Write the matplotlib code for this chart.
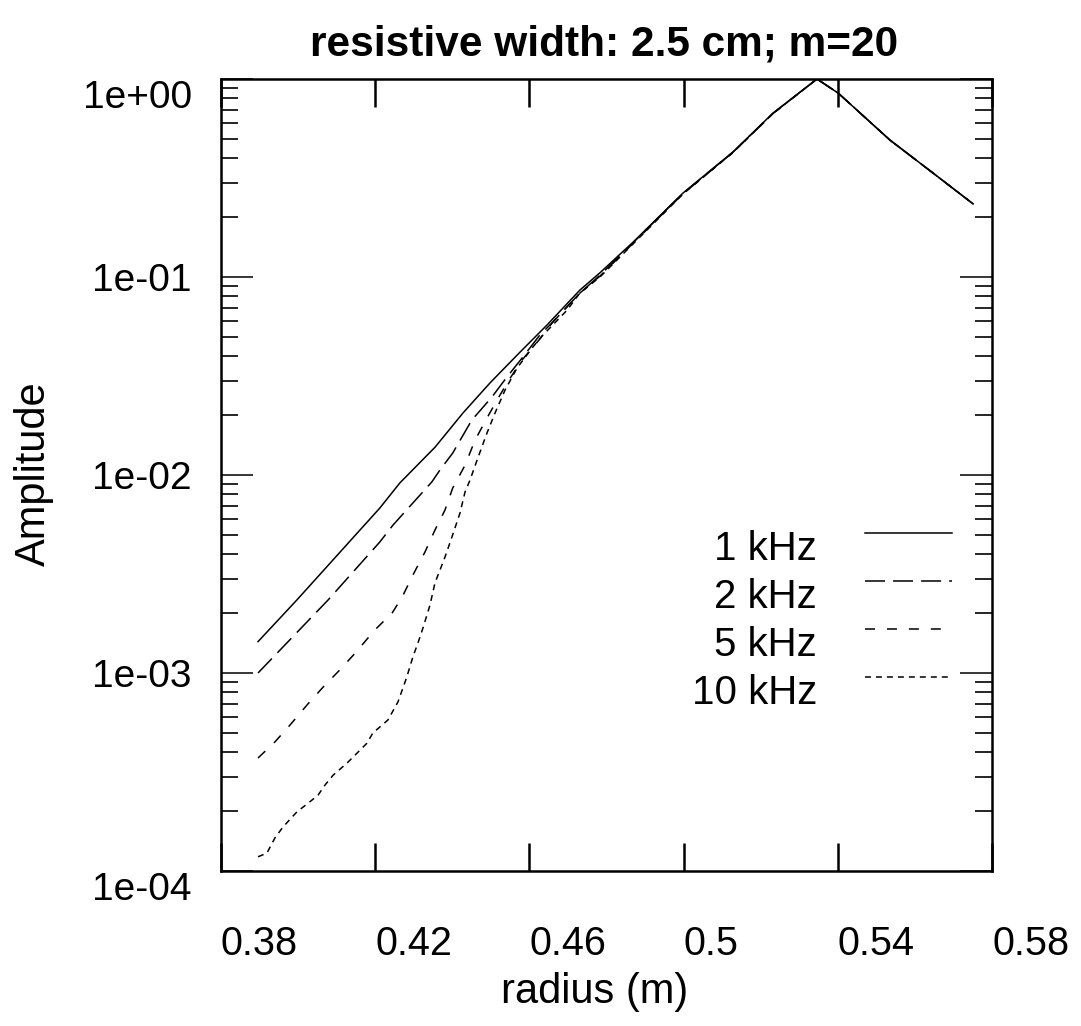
import matplotlib
matplotlib.use('Agg')
import matplotlib.pyplot as plt
from matplotlib.lines import Line2D
from matplotlib.transforms import ScaledTranslation

plt.rcParams['font.family'] = ['Liberation Sans', 'DejaVu Sans']
plt.rcParams['lines.scale_dashes'] = False

# data (radius in m, normalised amplitude)
r_1k = [0.3896, 0.3997, 0.4212, 0.4264, 0.4355, 0.4428, 0.4498, 0.4576, 0.4646,
        0.4731, 0.4783, 0.4869, 0.4998, 0.5128, 0.5232, 0.5346, 0.5401, 0.5535,
        0.5647, 0.5751]
amp_1k = [1.44e-3, 2.34e-3, 6.81e-3, 9.12e-3, 1.38e-2, 2.06e-2, 2.92e-2, 4.18e-2,
          5.73e-2, 8.59e-2, 0.105, 0.150, 0.265, 0.428, 0.673, 1.0, 0.849, 0.492,
          0.335, 0.234]

r_2k = [0.3896, 0.4078, 0.4212, 0.4246, 0.4298, 0.4347, 0.4368, 0.4401, 0.4428,
        0.4451, 0.4467, 0.4503, 0.4542, 0.4583, 0.4627, 0.4661, 0.4731, 0.4783,
        0.4869, 0.4998, 0.5128, 0.5232, 0.5346, 0.5401, 0.5535, 0.5647, 0.5751]
amp_2k = [1.0e-3, 2.34e-3, 4.59e-3, 5.58e-3, 7.23e-3, 9.23e-3, 1.06e-2, 1.29e-2,
          1.59e-2, 1.90e-2, 2.06e-2, 2.48e-2, 3.13e-2, 3.94e-2, 5.09e-2, 5.93e-2,
          8.30e-2, 0.102, 0.149, 0.264, 0.427, 0.671, 1.0, 0.849, 0.492, 0.335, 0.234]

r_5k = [0.3896, 0.3940, 0.3979, 0.4023, 0.4065, 0.4109, 0.4148, 0.4199, 0.4244,
        0.4270, 0.4298, 0.4329, 0.4355, 0.4381, 0.4401, 0.4433, 0.4459, 0.4490,
        0.4516, 0.4547, 0.4581, 0.4625, 0.4661, 0.4731, 0.4783, 0.4869, 0.4998,
        0.5128, 0.5232, 0.5346, 0.5401, 0.5535, 0.5647, 0.5751]
amp_5k = [3.72e-4, 4.49e-4, 5.46e-4, 6.89e-4, 8.49e-4, 1.04e-3, 1.26e-3, 1.65e-3,
          2.01e-3, 2.42e-3, 3.13e-3, 4.08e-3, 5.27e-3, 6.65e-3, 8.59e-3, 1.12e-2,
          1.50e-2, 1.94e-2, 2.39e-2, 3.02e-2, 3.81e-2, 4.81e-2, 5.93e-2, 8.30e-2,
          0.101, 0.148, 0.263, 0.426, 0.670, 1.0, 0.849, 0.492, 0.335, 0.234]

r_10k = [0.3896, 0.3919, 0.3940, 0.3961, 0.3997, 0.4026, 0.4052, 0.4070, 0.4091,
         0.4127, 0.4153, 0.4179, 0.4194, 0.4218, 0.4233, 0.4259, 0.4270, 0.4282,
         0.4298, 0.4311, 0.4324, 0.4342, 0.4355, 0.4368, 0.4381, 0.4399, 0.4420,
         0.4433, 0.4446, 0.4467, 0.4490, 0.4511, 0.4537, 0.4568, 0.4609, 0.4635,
         0.4661, 0.4698, 0.4731, 0.4783, 0.4869, 0.4998, 0.5128, 0.5232, 0.5346,
         0.5401, 0.5535, 0.5647, 0.5751]
amp_10k = [1.18e-4, 1.23e-4, 1.47e-4, 1.67e-4, 1.99e-4, 2.20e-4, 2.42e-4, 2.72e-4,
           3.05e-4, 3.51e-4, 3.94e-4, 4.43e-4, 4.98e-4, 5.46e-4, 5.79e-4, 7.14e-4,
           8.20e-4, 9.55e-4, 1.21e-3, 1.42e-3, 1.69e-3, 2.20e-3, 2.85e-3, 3.31e-3,
           3.85e-3, 4.86e-3, 6.43e-3, 8.20e-3, 9.44e-3, 1.23e-2, 1.63e-2, 2.06e-2,
           2.69e-2, 3.47e-2, 4.43e-2, 5.09e-2, 5.73e-2, 6.81e-2, 8.30e-2, 0.100,
           0.147, 0.262, 0.425, 0.669, 1.0, 0.849, 0.492, 0.335, 0.234]

labels = ['1 kHz', '2 kHz', '5 kHz', '10 kHz']
styles = ['-', (0, (14.4, 5.8)), (0, (7.2, 8.6)), (0, (4.3, 3.6))]

xticks = [0.38, 0.42, 0.46, 0.50, 0.54, 0.58]
xticklabels = ['0.38', '0.42', '0.46', '0.5', '0.54', '0.58']
yticks = [1e-4, 1e-3, 1e-2, 1e-1, 1e0]
yticklabels = ['1e-04', '1e-03', '1e-02', '1e-01', '1e+00']

fig = plt.figure(figsize=(10.81, 10.26), dpi=100)
ax = fig.add_axes([221 / 1081, 1 - 871 / 1026, 771 / 1081, 792 / 1026])

series = [(r_1k, amp_1k), (r_2k, amp_2k), (r_5k, amp_5k), (r_10k, amp_10k)]
for (r, a), ls in zip(series, styles):
    ax.plot(r, a, color='black', lw=1.1, linestyle=ls)

ax.set_yscale('log')
ax.set_xlim(0.38, 0.58)
ax.set_ylim(1e-4, 1.0)

ax.set_xticks(xticks)
ax.set_xticklabels(xticklabels, ha='left')
ax.set_yticks(yticks)
ax.set_yticklabels(yticklabels)
ax.xaxis.set_minor_locator(matplotlib.ticker.NullLocator())
ax.yaxis.set_minor_locator(matplotlib.ticker.LogLocator(base=10, subs=range(2, 10)))
ax.yaxis.set_minor_formatter(matplotlib.ticker.NullFormatter())

ax.tick_params(axis='x', which='major', direction='in', length=20, width=1.8,
               top=True, bottom=True, labelsize=28.5, pad=39)
ax.tick_params(axis='y', which='major', direction='in', length=23, width=1.1,
               left=True, right=True, labelsize=28, pad=21)
ax.tick_params(axis='y', which='minor', direction='in', length=12, width=1.2,
               left=True, right=True)

# end labels on y sit a bit lower in the original
for lab in (ax.get_yticklabels()[0], ax.get_yticklabels()[-1]):
    lab.set_transform(lab.get_transform() + ScaledTranslation(0, -15 / 100, fig.dpi_scale_trans))

for s in ax.spines.values():
    s.set_linewidth(1.8)

ax.set_xlabel('radius (m)', fontsize=30, va='baseline')
ax.xaxis.set_label_coords((595 - 221) / 771, -(1003 - 871) / 792)
ax.set_ylabel('Amplitude', fontsize=30, va='center')
ax.yaxis.set_label_coords(-(221 - 34) / 771, 0.502)
fig.text(604 / 1081, 1 - 55 / 1026, 'resistive width: 2.5 cm; m=20',
         fontsize=30.5, fontweight='bold', ha='center', va='baseline')

# key, drawn gnuplot-style
for i, (lab, ls) in enumerate(zip(labels, styles)):
    yl = (871 - (533 + 48 * i)) / 792
    yt = (871 - (549 + 48 * i)) / 792
    ax.add_line(Line2D([0.835, 0.948], [yl, yl], transform=ax.transAxes,
                       color='black', lw=1.1, linestyle=ls))
    ax.text(0.773, yt, lab, transform=ax.transAxes, fontsize=29,
            ha='right', va='center')

fig.savefig('out.png', dpi=100)
